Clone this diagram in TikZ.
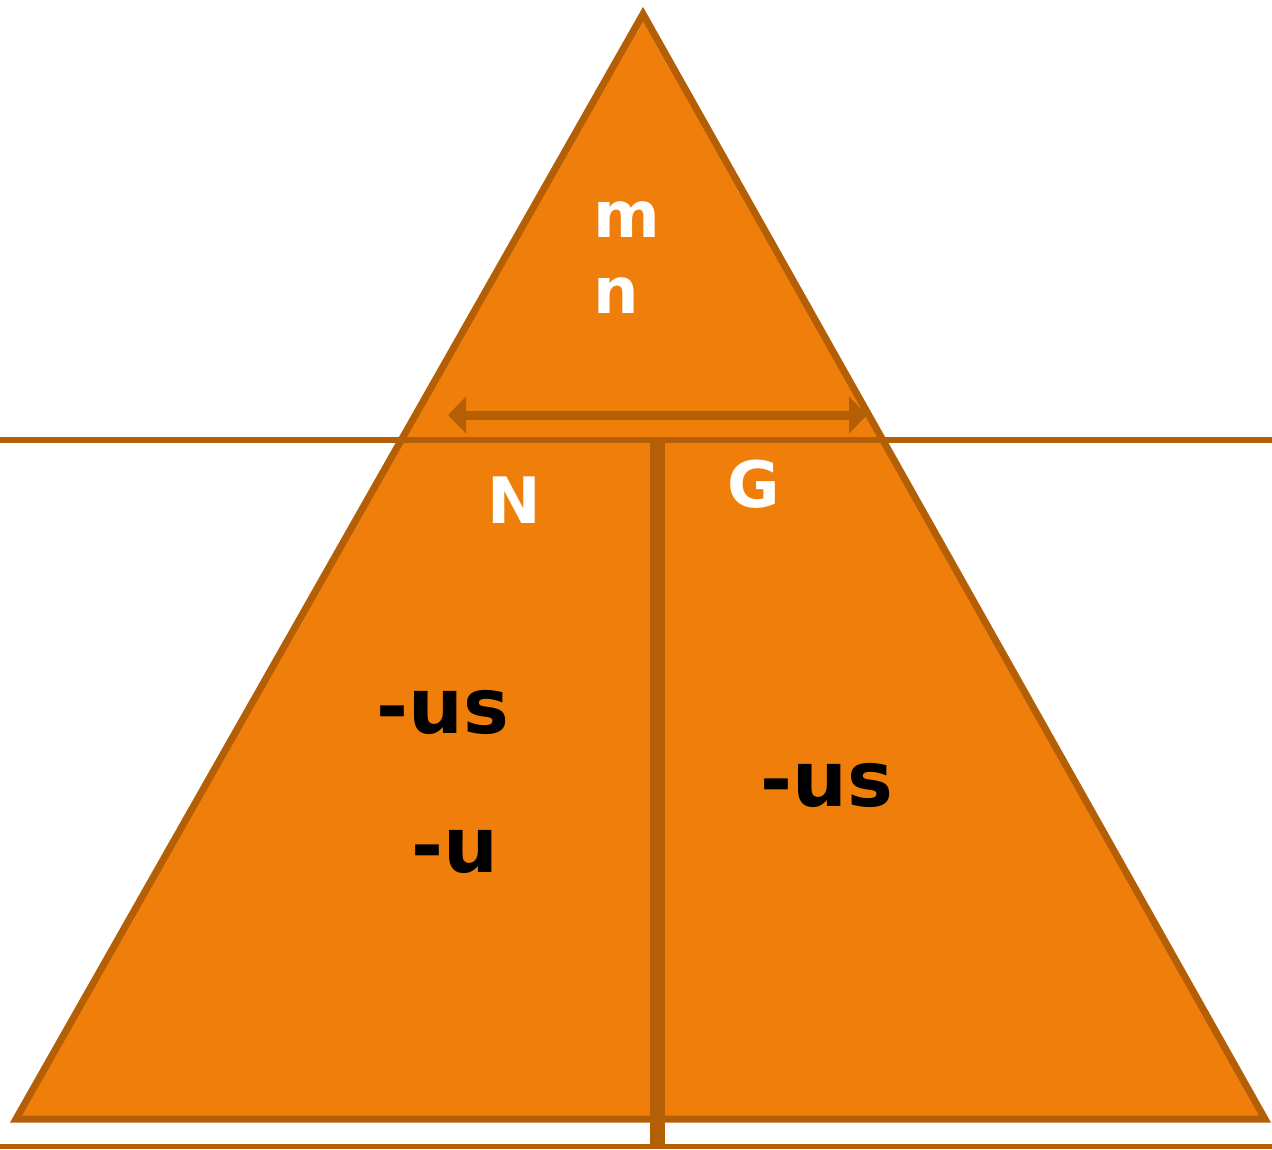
\documentclass[tikz,border=0pt]{standalone}
\usepackage{fontspec}
\setmainfont{DejaVu Sans}
\usetikzlibrary{arrows.meta}
\definecolor{orangefill}{HTML}{EF7F0A}
\definecolor{orangeedge}{HTML}{B45F06}

\begin{document}
\begin{tikzpicture}[
  x=1pt, y=-1pt,
  tri/.style={draw=orangeedge, fill=orangefill, line width=7pt, line join=miter},
  rule/.style={draw=orangeedge, line width=6pt},
  divider/.style={draw=orangeedge, line width=15pt},
  arr/.style={{Triangle[length=18pt, width=36pt]}-{Triangle[length=18pt, width=36pt]},
              draw=orangeedge, fill=orangeedge, line width=9pt},
  wlbl/.style={text=white, font=\fontsize{64}{77}\selectfont\bfseries,
               inner sep=0pt, anchor=base},
  blbl/.style={text=black, font=\fontsize{77}{92}\selectfont\bfseries,
               inner sep=0pt, anchor=base},
]
  \useasboundingbox (0,0) rectangle (1272,1149);

  %% ── Triangle ──
  \coordinate (apex)  at (643, 14);
  \coordinate (baseL) at (16, 1119);
  \coordinate (baseR) at (1265, 1119);
  \draw[tri] (apex) -- (baseL) -- (baseR) -- cycle;

  %% ── Rules ──
  \coordinate (midL) at (0, 440);
  \coordinate (midR) at (1272, 440);
  \draw[rule] (midL) -- (midR);

  \coordinate (botL) at (0, 1146.5);
  \coordinate (botR) at (1272, 1146.5);
  \draw[orangeedge, line width=5pt] (botL) -- (botR);

  \coordinate (divTop) at (657, 437);
  \coordinate (divBot) at (657, 1149);
  \draw[divider] (divTop) -- (divBot);

  %% ── Double arrow ──
  \coordinate (arrL) at (448, 415);
  \coordinate (arrR) at (867, 415);
  \draw[arr] (arrL) -- (arrR);

  %% ── Labels ──
  \node[wlbl] (m) at (627, 237) {m};
  \node[wlbl] (n) at (616, 313) {n};
  \node[wlbl] (N) at (514, 523) {N};
  \node[wlbl] (G) at (754, 507) {G};

  \node[blbl] (usL) at (443, 733) {-us};
  \node[blbl] (uL)  at (455, 872) {-u};
  \node[blbl] (usR) at (827, 806) {-us};
\end{tikzpicture}
\end{document}
